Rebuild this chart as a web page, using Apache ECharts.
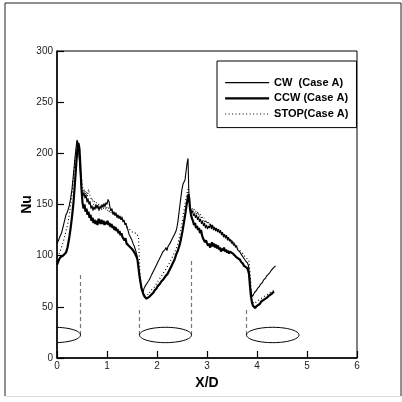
<!DOCTYPE html>
<html>
<head>
<meta charset="utf-8">
<script src="https://cdn.jsdelivr.net/npm/echarts@6/dist/echarts.min.js"></script>
<style>
  html, body { margin: 0; padding: 0; background: #fff; }
  #chart { width: 402px; height: 402px; }
</style>
</head>
<body>
<div id="chart"></div>
<script>
// Nu along X/D, three rotation cases
var cwData = [[0,112],[0.03,115],[0.06,119],[0.09,122],[0.12,128],[0.15,134],[0.18,140],[0.21,143],[0.24,148],[0.27,155],[0.30,165],[0.33,180],[0.36,196],[0.385,207],[0.40,213],[0.42,210],[0.44,198],[0.46,185],[0.48,172],[0.50,162],[0.52,158],[0.54,162],[0.56,156],[0.58,160],[0.60,152],[0.62,156],[0.64,150],[0.66,153],[0.68,146],[0.70,149],[0.72,144],[0.74,148],[0.76,145],[0.78,150],[0.80,146],[0.82,149],[0.84,144],[0.86,148],[0.88,146],[0.90,150],[0.92,147],[0.94,151],[0.96,148],[0.98,152],[1.00,150],[1.02,155],[1.04,153],[1.06,147],[1.08,144],[1.10,146],[1.12,140],[1.14,143],[1.16,139],[1.18,142],[1.20,137],[1.22,140],[1.24,136],[1.26,139],[1.28,135],[1.30,138],[1.32,133],[1.34,135],[1.36,130],[1.38,132],[1.40,127],[1.42,125],[1.44,121],[1.46,122],[1.48,117],[1.50,115],[1.52,112],[1.54,110],[1.56,107],[1.58,104],[1.60,100],[1.62,92],[1.64,84],[1.66,76],[1.68,70],[1.70,66],[1.72,64],[1.74,68],[1.76,70],[1.78,69],[1.80,73],[1.82,72],[1.84,76],[1.86,78],[1.88,80],[1.90,82],[1.92,84],[1.94,86],[1.96,88],[1.98,90],[2.00,92],[2.02,93],[2.04,96],[2.06,98],[2.08,100],[2.10,101],[2.12,104],[2.14,103],[2.16,106],[2.18,108],[2.20,105],[2.22,109],[2.24,110],[2.26,112],[2.28,114],[2.30,116],[2.32,118],[2.34,120],[2.36,122],[2.38,124],[2.40,128],[2.42,134],[2.44,142],[2.46,150],[2.48,158],[2.50,165],[2.52,170],[2.54,170],[2.56,174],[2.58,182],[2.60,190],[2.62,195],[2.635,165],[2.65,150],[2.67,146],[2.69,142],[2.71,144],[2.73,139],[2.75,141],[2.77,137],[2.79,140],[2.81,135],[2.83,138],[2.85,133],[2.87,136],[2.89,131],[2.91,134],[2.93,129],[2.95,132],[2.97,127],[2.99,130],[3.01,126],[3.03,129],[3.05,127],[3.07,131],[3.09,126],[3.11,130],[3.13,125],[3.15,128],[3.17,124],[3.19,127],[3.21,123],[3.23,126],[3.25,122],[3.27,125],[3.29,120],[3.31,123],[3.33,118],[3.35,121],[3.37,117],[3.39,120],[3.41,115],[3.43,118],[3.45,114],[3.47,116],[3.49,112],[3.51,114],[3.53,110],[3.55,112],[3.57,108],[3.59,110],[3.61,106],[3.63,107],[3.65,104],[3.67,105],[3.69,101],[3.71,100],[3.73,98],[3.75,97],[3.77,95],[3.79,96],[3.81,93],[3.83,90],[3.85,80],[3.87,68],[3.89,62],[3.91,60],[3.93,62],[3.95,64],[3.97,63],[3.99,66],[4.01,68],[4.03,67],[4.05,70],[4.07,72],[4.09,71],[4.11,74],[4.13,76],[4.15,75],[4.17,78],[4.19,80],[4.21,79],[4.23,81],[4.25,83],[4.27,84],[4.29,86],[4.31,87],[4.33,88],[4.35,89],[4.37,90]];

var ccwData = [[0,91],[0.03,95],[0.06,98],[0.09,99],[0.12,100],[0.15,101],[0.18,103],[0.21,108],[0.24,116],[0.27,126],[0.30,138],[0.33,152],[0.36,172],[0.39,193],[0.41,205],[0.43,210],[0.45,204],[0.47,185],[0.49,165],[0.51,152],[0.53,146],[0.55,150],[0.57,143],[0.59,146],[0.61,140],[0.63,143],[0.65,137],[0.67,140],[0.69,134],[0.71,137],[0.73,132],[0.75,135],[0.77,131],[0.79,134],[0.81,130],[0.83,136],[0.85,134],[0.87,131],[0.89,135],[0.91,131],[0.93,134],[0.95,130],[0.97,133],[0.99,131],[1.01,134],[1.03,130],[1.05,132],[1.07,128],[1.09,131],[1.11,127],[1.13,129],[1.15,125],[1.17,128],[1.19,124],[1.21,126],[1.23,122],[1.25,124],[1.27,120],[1.29,122],[1.31,118],[1.33,119],[1.35,115],[1.37,117],[1.39,112],[1.41,113],[1.43,110],[1.45,111],[1.47,108],[1.49,109],[1.51,106],[1.53,106],[1.55,103],[1.57,102],[1.59,99],[1.61,96],[1.63,88],[1.65,80],[1.67,74],[1.69,68],[1.71,65],[1.73,62],[1.75,60],[1.77,59],[1.79,58],[1.81,58],[1.83,58],[1.85,60],[1.87,61],[1.89,62],[1.91,63],[1.93,64],[1.95,66],[1.97,67],[1.99,68],[2.01,70],[2.03,71],[2.05,72],[2.07,73],[2.09,75],[2.11,76],[2.13,77],[2.15,78],[2.17,80],[2.19,81],[2.21,82],[2.23,84],[2.25,86],[2.27,88],[2.29,90],[2.31,92],[2.33,94],[2.35,96],[2.37,99],[2.39,102],[2.41,104],[2.43,107],[2.45,110],[2.47,114],[2.49,119],[2.51,124],[2.53,130],[2.55,136],[2.57,142],[2.59,149],[2.61,155],[2.63,160],[2.645,156],[2.66,146],[2.68,140],[2.70,136],[2.72,134],[2.74,130],[2.76,132],[2.78,127],[2.80,129],[2.82,125],[2.84,127],[2.86,122],[2.88,125],[2.90,120],[2.92,117],[2.94,115],[2.96,113],[2.98,115],[3.00,112],[3.02,110],[3.04,112],[3.06,108],[3.08,110],[3.10,113],[3.12,109],[3.14,112],[3.16,108],[3.18,111],[3.20,107],[3.22,110],[3.24,106],[3.26,108],[3.28,104],[3.30,107],[3.32,105],[3.34,108],[3.36,104],[3.38,106],[3.40,103],[3.42,105],[3.44,102],[3.46,104],[3.48,103],[3.50,105],[3.52,102],[3.54,103],[3.56,100],[3.58,101],[3.60,98],[3.62,99],[3.64,97],[3.66,96],[3.68,94],[3.70,93],[3.72,92],[3.74,90],[3.76,91],[3.78,89],[3.80,88],[3.82,86],[3.84,82],[3.86,70],[3.88,60],[3.90,54],[3.92,51],[3.94,50],[3.96,49],[3.98,50],[4.00,51],[4.02,50],[4.04,52],[4.06,53],[4.08,55],[4.10,56],[4.12,55],[4.14,57],[4.16,58],[4.18,57],[4.20,59],[4.22,60],[4.24,61],[4.26,60],[4.28,62],[4.30,63],[4.32,64],[4.34,65]];

var stopData = [[0,99],[0.03,101],[0.06,104],[0.09,108],[0.12,113],[0.15,118],[0.18,124],[0.21,130],[0.24,138],[0.27,148],[0.30,160],[0.33,175],[0.36,192],[0.39,205],[0.41,212],[0.43,208],[0.45,200],[0.47,185],[0.49,175],[0.51,168],[0.53,162],[0.55,165],[0.57,160],[0.59,163],[0.61,158],[0.63,165],[0.65,160],[0.67,158],[0.69,154],[0.71,156],[0.73,150],[0.75,153],[0.77,149],[0.79,152],[0.81,147],[0.83,151],[0.85,146],[0.87,150],[0.89,145],[0.91,149],[0.93,146],[0.95,150],[0.97,145],[0.99,148],[1.01,144],[1.03,147],[1.05,142],[1.07,145],[1.09,141],[1.11,144],[1.13,140],[1.15,143],[1.17,139],[1.19,141],[1.21,137],[1.23,140],[1.25,136],[1.27,138],[1.29,134],[1.31,136],[1.33,132],[1.35,134],[1.37,130],[1.39,131],[1.41,128],[1.43,129],[1.45,126],[1.47,127],[1.49,124],[1.51,125],[1.53,122],[1.55,123],[1.57,121],[1.59,122],[1.61,120],[1.63,118],[1.645,100],[1.66,82],[1.68,72],[1.70,67],[1.72,64],[1.74,62],[1.76,60],[1.78,62],[1.80,61],[1.82,63],[1.84,62],[1.86,65],[1.88,64],[1.90,67],[1.92,66],[1.94,69],[1.96,70],[1.98,72],[2.00,73],[2.02,75],[2.04,76],[2.06,78],[2.08,79],[2.10,81],[2.12,82],[2.14,84],[2.16,85],[2.18,87],[2.20,89],[2.22,90],[2.24,92],[2.26,94],[2.28,96],[2.30,98],[2.32,100],[2.34,102],[2.36,104],[2.38,106],[2.40,109],[2.42,112],[2.44,116],[2.46,121],[2.48,126],[2.50,132],[2.52,138],[2.54,144],[2.56,150],[2.58,156],[2.60,161],[2.62,165],[2.64,155],[2.66,148],[2.68,145],[2.70,147],[2.72,143],[2.74,146],[2.76,141],[2.78,144],[2.80,140],[2.82,143],[2.84,138],[2.86,141],[2.88,137],[2.90,139],[2.92,134],[2.94,137],[2.96,132],[2.98,135],[3.00,131],[3.02,134],[3.04,130],[3.06,132],[3.08,128],[3.10,131],[3.12,127],[3.14,129],[3.16,125],[3.18,128],[3.20,124],[3.22,127],[3.24,123],[3.26,125],[3.28,121],[3.30,124],[3.32,120],[3.34,122],[3.36,118],[3.38,121],[3.40,117],[3.42,119],[3.44,115],[3.46,117],[3.48,113],[3.50,115],[3.52,111],[3.54,113],[3.56,110],[3.58,111],[3.60,108],[3.62,109],[3.64,106],[3.66,107],[3.68,104],[3.70,105],[3.72,102],[3.74,101],[3.76,99],[3.78,98],[3.80,97],[3.82,96],[3.84,95],[3.86,94],[3.875,75],[3.89,58],[3.91,55],[3.93,54],[3.95,53],[3.97,54],[3.99,55],[4.01,54],[4.03,56],[4.05,57],[4.07,56],[4.09,58],[4.11,59],[4.13,58],[4.15,60],[4.17,61],[4.19,60],[4.21,62],[4.23,63],[4.25,62],[4.27,64],[4.29,65],[4.31,64],[4.33,66]];

// cylinders: [centre x, centre Nu, half width, half height]
var cylinders = [[-0.05, 22.5, 0.52, 7.5], [2.17, 22.5, 0.52, 7.5], [4.315, 22.5, 0.525, 7.5]];
// dashed guide lines: [x, from Nu, to Nu]
var guides = [[0.47, 22.5, 81], [1.65, 22.5, 50], [2.69, 22.5, 95], [3.79, 22.5, 47]];

var seriesNames = ['CW  (Case A)', 'CCW (Case A)', 'STOP(Case A)'];
var xTicks = [0, 1, 2, 3, 4, 5, 6];

var FONT = 'Liberation Sans, Arial, sans-serif';
var myChart = echarts.init(document.getElementById('chart'));

var cwLine = { color: '#000', width: 1.1 };
var ccwLine = { color: '#000', width: 2.2 };
var stopLine = { color: '#000', width: 1.1, type: [1, 2.5] };

var guideSeries = guides.map(function (g) {
    return {
        type: 'line',
        data: [[g[0], g[1]], [g[0], g[2]]],
        symbol: 'none',
        silent: true,
        lineStyle: { color: '#777', width: 1.2, type: [4, 3] },
        z: 1
    };
});

var option = {
    animation: false,
    backgroundColor: '#fff',
    grid: { left: 57, top: 51, width: 300, height: 307, show: true, borderColor: '#000', borderWidth: 1, backgroundColor: 'transparent' },
    legend: {
        data: [
            { name: seriesNames[0], lineStyle: cwLine },
            { name: seriesNames[1], lineStyle: ccwLine },
            { name: seriesNames[2], lineStyle: stopLine }
        ],
        orient: 'vertical',
        left: 217,
        top: 61,
        padding: [16, 8, 8, 7],
        itemWidth: 44,
        itemHeight: 14,
        itemGap: 4.5,
        itemTextGap: 8,
        icon: 'inherit',
        itemStyle: { color: 'transparent', borderWidth: 0, opacity: 0 },
        borderColor: '#000',
        borderWidth: 1,
        textStyle: { fontFamily: FONT, fontWeight: 'bold', fontSize: 11, color: '#000' }
    },
    xAxis: {
        type: 'value',
        min: 0,
        max: 6,
        interval: 1,
        name: 'X/D',
        nameLocation: 'middle',
        nameGap: 15,
        nameTextStyle: { fontFamily: FONT, fontWeight: 'bold', fontSize: 14, color: '#000' },
        axisLine: { lineStyle: { color: '#000', width: 1.5 } },
        axisTick: { inside: true, length: 7, lineStyle: { color: '#000', width: 1.2 } },
        axisLabel: { fontFamily: FONT, fontSize: 10, color: '#222', margin: 3, formatter: function (v) { return xTicks.indexOf(v) >= 0 ? String(v) : ''; } },
        splitLine: { show: false }
    },
    yAxis: {
        type: 'value',
        min: 0,
        max: 300,
        interval: 50,
        name: 'Nu',
        nameLocation: 'middle',
        nameGap: 23,
        nameMoveOverlap: false,
        nameTextStyle: { fontFamily: FONT, fontWeight: 'bold', fontSize: 14, color: '#000' },
        axisLine: { lineStyle: { color: '#000', width: 1.5 } },
        axisTick: { inside: true, length: 7, lineStyle: { color: '#000', width: 1.2 } },
        axisLabel: { fontFamily: FONT, fontSize: 10, color: '#222', margin: 4 },
        splitLine: { show: false }
    },
    graphic: [
        { type: 'line', shape: { x1: 5, y1: 3, x2: 5, y2: 396 }, style: { stroke: '#222', lineWidth: 1 } },
        { type: 'line', shape: { x1: 5, y1: 3, x2: 401, y2: 3 }, style: { stroke: '#222', lineWidth: 1 } },
        { type: 'line', shape: { x1: 401, y1: 3, x2: 401, y2: 396 }, style: { stroke: '#222', lineWidth: 1 } },
        { type: 'line', shape: { x1: 5, y1: 396.5, x2: 401, y2: 396.5 }, style: { stroke: '#ddd', lineWidth: 1 } }
    ],
    series: [
        {
            name: seriesNames[0], type: 'line', data: cwData, symbol: 'none', showSymbol: false,
            lineStyle: cwLine, itemStyle: { color: '#000' }, z: 3
        },
        {
            name: seriesNames[1], type: 'line', data: ccwData, symbol: 'none', showSymbol: false,
            lineStyle: ccwLine, itemStyle: { color: '#000' }, z: 3
        },
        {
            name: seriesNames[2], type: 'line', data: stopData, symbol: 'none', showSymbol: false,
            lineStyle: stopLine, itemStyle: { color: '#000' }, z: 3
        },
        {
            name: 'cylinders',
            type: 'custom',
            clip: true,
            silent: true,
            data: cylinders,
            renderItem: function (params, api) {
                var c = api.coord([api.value(0), api.value(1)]);
                var s = api.size([api.value(2), api.value(3)]);
                return {
                    type: 'ellipse',
                    shape: { cx: c[0], cy: c[1], rx: s[0], ry: s[1] },
                    style: { fill: 'none', stroke: '#000', lineWidth: 1 }
                };
            },
            z: 2
        }
    ].concat(guideSeries)
};

myChart.setOption(option);
</script>
</body>
</html>
